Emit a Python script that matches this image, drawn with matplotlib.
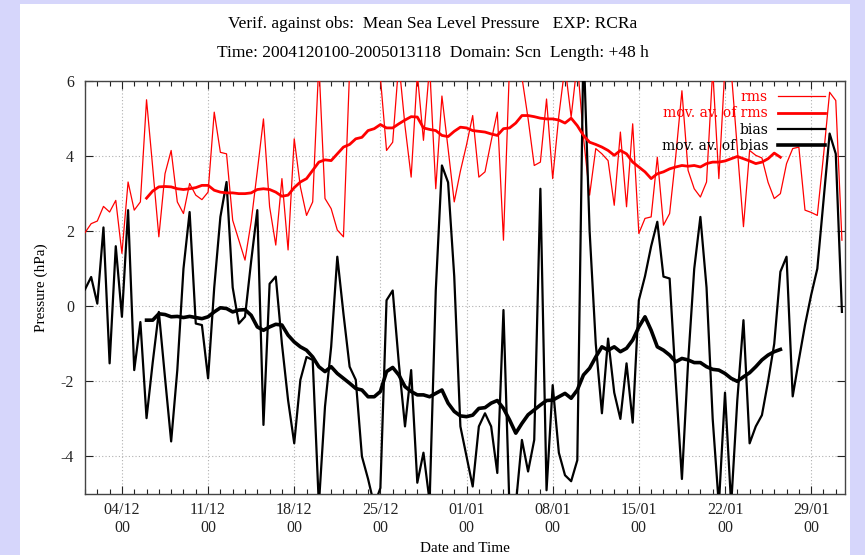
import matplotlib
matplotlib.use("Agg")
import matplotlib.pyplot as plt
import matplotlib.dates as mdates
from matplotlib.patches import Rectangle
import numpy as np
import pandas as pd

# ---------------- data (12-hourly, from 2004-12-01 00 UTC) ----------------
start_time = "2004-12-01 00:00"
rms = [1.96, 2.2, 2.27, 2.66, 2.51, 2.82, 1.41, 3.31, 2.56, 2.78,
       5.5, 3.7, 1.85, 3.53, 4.15, 2.78, 2.47, 3.27, 2.96, 2.84,
       3.04, 5.17, 4.1, 4.06, 2.29, 1.76, 1.23, 2.25, 3.6, 4.99,
       2.65, 1.63, 3.4, 1.5, 4.46, 3.18, 2.42, 2.78, 6.5, 2.87,
       2.6, 2.03, 1.85, 6.3, 7.0, 7.5, 7.0, 6.6, 6.1, 4.15,
       4.37, 6.5, 4.8, 3.44, 6.2, 4.42, 6.4, 3.13, 5.6, 4.2,
       2.78, 3.6, 4.3, 5.08, 3.44, 3.58, 4.4, 5.17, 1.76, 6.5,
       7.0, 6.1, 5.0, 3.75, 3.84, 5.52, 3.4, 5.08, 6.4, 5.04,
       6.5, 4.5, 2.96, 4.2, 4.06, 3.88, 2.69, 4.64, 2.65, 4.86,
       1.94, 2.34, 2.38, 3.97, 2.16, 2.47, 4.0, 5.74, 3.62, 3.13,
       2.91, 3.31, 6.3, 3.4, 6.4, 6.3, 4.2, 2.12, 4.15, 4.02,
       3.95, 3.3, 2.87, 3.0, 3.8, 4.2, 4.24, 2.56, 2.5, 2.42,
       4.0, 5.7, 5.48, 1.76]
bias = [0.45, 0.78, 0.07, 2.1, -1.52, 1.6, -0.28, 2.56, -1.7, -0.42,
        -2.98, -1.5, -0.15, -1.9, -3.6, -1.7, 1.0, 2.51, -0.46, -0.5,
        -1.92, 0.5, 2.38, 3.31, 0.5, -0.46, -0.28, 1.2, 2.56, -3.16,
        0.6, 0.79, -1.0, -2.5, -3.65, -1.96, -1.35, -1.43, -5.3, -2.67,
        -1.08, 1.32, -0.2, -1.61, -1.96, -4.0, -4.6, -5.3, -4.84, 0.16,
        0.42, -1.52, -3.2, -1.7, -4.7, -3.9, -5.2, 0.42, 3.75, 3.3,
        0.8, -3.2, -4.0, -4.8, -3.2, -2.85, -3.2, -4.44, -0.1, -5.5,
        -5.3, -3.56, -4.4, -3.56, 3.13, -4.9, -2.1, -3.9, -4.5, -4.66,
        -4.1, 7.0, 2.0, -1.0, -2.85, -0.86, -2.3, -3.0, -1.52, -3.1,
        0.16, 0.8, 1.6, 2.25, 0.79, 0.74, -2.0, -4.6, -1.5, 1.0,
        2.38, 0.5, -3.0, -5.3, -2.3, -5.3, -2.5, -0.37, -3.65, -3.2,
        -2.9, -2.0, -1.0, 0.92, 1.32, -2.4, -1.43, -0.5, 0.3, 1.0,
        2.8, 4.6, 4.06, -0.15]
mav_offset = 10  # moving averages start 10 steps (5 days) after start
mav_rms = [2.88, 3.07, 3.18, 3.19, 3.18, 3.13, 3.11, 3.13, 3.16, 3.22,
           3.22, 3.09, 3.04, 3.02, 3.02, 3.0, 3.0, 3.02, 3.11, 3.13,
           3.11, 3.04, 2.93, 2.96, 3.16, 3.31, 3.4, 3.62, 3.84, 3.9,
           3.88, 4.06, 4.24, 4.31, 4.46, 4.5, 4.68, 4.73, 4.84, 4.75,
           4.75, 4.86, 4.96, 5.05, 5.04, 4.75, 4.71, 4.68, 4.55, 4.52,
           4.66, 4.77, 4.75, 4.68, 4.66, 4.64, 4.59, 4.55, 4.73, 4.75,
           4.88, 5.08, 5.08, 5.05, 5.01, 4.99, 4.99, 4.96, 4.88, 5.01,
           4.81, 4.55, 4.37, 4.31, 4.24, 4.15, 4.02, 4.15, 4.06, 3.84,
           3.71, 3.58, 3.4, 3.53, 3.58, 3.66, 3.71, 3.75, 3.73, 3.75,
           3.71, 3.8, 3.84, 3.84, 3.87, 3.93, 3.99, 3.93, 3.87, 3.8,
           3.84, 3.93, 4.08, 3.97]
mav_bias = [-0.37, -0.37, -0.2, -0.22, -0.28, -0.27, -0.3, -0.27, -0.3, -0.33,
            -0.28, -0.15, -0.04, -0.06, -0.15, -0.1, -0.09, -0.24, -0.55, -0.64,
            -0.55, -0.48, -0.5, -0.77, -0.95, -1.08, -1.17, -1.35, -1.61, -1.74,
            -1.61, -1.79, -1.92, -2.05, -2.19, -2.23, -2.41, -2.41, -2.27, -1.74,
            -1.63, -1.83, -2.14, -2.27, -2.36, -2.36, -2.41, -2.32, -2.23, -2.58,
            -2.8, -2.92, -2.94, -2.9, -2.72, -2.7, -2.58, -2.51, -2.72, -3.03,
            -3.38, -3.12, -2.89, -2.76, -2.63, -2.51, -2.5, -2.41, -2.32, -2.45,
            -2.23, -1.83, -1.65, -1.35, -1.08, -1.17, -1.08, -1.21, -1.12, -0.9,
            -0.55, -0.28, -0.64, -1.08, -1.17, -1.3, -1.48, -1.39, -1.43, -1.5,
            -1.5, -1.61, -1.68, -1.7, -1.79, -1.92, -2.0, -1.88, -1.77, -1.61,
            -1.43, -1.3, -1.21, -1.15]
tick_dates = ["2004-12-04", "2004-12-11", "2004-12-18", "2004-12-25",
              "2005-01-01", "2005-01-08", "2005-01-15", "2005-01-22", "2005-01-29"]
tick_labels = ["04/12\n00", "11/12\n00", "18/12\n00", "25/12\n00",
               "01/01\n00", "08/01\n00", "15/01\n00", "22/01\n00", "29/01\n00"]
y_ticks = [-4, -2, 0, 2, 4, 6]

# ---------------- figure ----------------
serif = ["Liberation Serif", "DejaVu Serif"]
plt.rcParams["font.family"] = serif

fig = plt.figure(figsize=(8.65, 5.55), dpi=100)
fig.patch.set_facecolor("#d6d6fb")
fig.patches.append(Rectangle((20 / 865, 0), 830 / 865, 1 - 4 / 555,
                             transform=fig.transFigure, facecolor="white",
                             edgecolor="none", zorder=-10))
ax = fig.add_axes([85 / 865, 1 - 494 / 555, 760 / 865, 413 / 555])
ax.set_zorder(2)

t = pd.date_range(start_time, periods=len(rms), freq="12h")
t_mav = t[mav_offset:mav_offset + len(mav_rms)]

ax.plot(t, rms, color="#ff0000", lw=0.9, label="rms", zorder=3)
ax.plot(t_mav, mav_rms, color="#ff0000", lw=2.0, label="mov. av. of rms", zorder=4)
ax.plot(t, bias, color="black", lw=1.6, label="bias", zorder=3)
ax.plot(t_mav, mav_bias, color="black", lw=2.6, label="mov. av. of bias", zorder=4)

ax.set_xlim(pd.Timestamp("2004-12-01 00:00"), pd.Timestamp("2005-01-31 18:00"))
ax.set_ylim(-5, 6)
ax.set_yticks(y_ticks)
ax.set_yticklabels([str(v) for v in y_ticks])
ax.set_xticks([pd.Timestamp(d) for d in tick_dates])
ax.set_xticklabels(tick_labels, linespacing=1.15)
ax.xaxis.set_minor_locator(mdates.DayLocator())

ax.tick_params(axis="both", which="both", direction="in", top=True, right=True,
               labelsize=11.5, colors="#222222")
ax.tick_params(axis="both", which="major", length=6, width=0.8)
ax.tick_params(axis="x", which="minor", length=3.5, width=0.8)
ax.tick_params(axis="x", which="major", pad=6)
ax.tick_params(axis="y", which="major", pad=8)
for sp in ax.spines.values():
    sp.set_color("#444444")
    sp.set_linewidth(1.0)

ax.grid(True, which="major", color="#b0b0b0", linestyle=(0, (1, 2)), linewidth=0.8)

ax.set_xlabel("Date and Time", fontsize=11, labelpad=4)
ax.set_ylabel("Pressure (hPa)", fontsize=11, labelpad=9)

fig.text(0.5, 1 - 24 / 555, "Verif. against obs:  Mean Sea Level Pressure   EXP: RCRa",
         ha="center", va="center", fontsize=12.5)
fig.text(0.5, 1 - 53 / 555, "Time: 2004120100-2005013118  Domain: Scn  Length: +48 h",
         ha="center", va="center", fontsize=12.5)

leg = ax.legend(loc="upper right", bbox_to_anchor=(0.981, 0.991), frameon=False,
                markerfirst=False, handlelength=3.4,
                handletextpad=0.7, labelspacing=0.16, borderaxespad=0.0,
                prop={"family": ["DejaVu Serif"], "size": 10})
for txt, col in zip(leg.get_texts(), ["#ff0000", "#ff0000", "black", "black"]):
    txt.set_color(col)
leg._legend_box.align = "right"

fig.savefig("out.png", dpi=100, facecolor=fig.get_facecolor())
